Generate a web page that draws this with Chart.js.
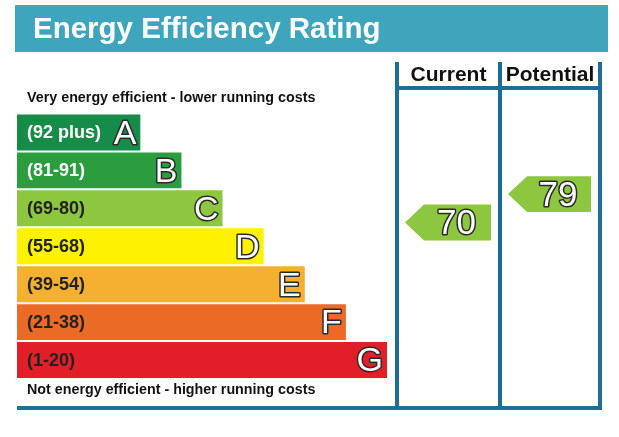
<!DOCTYPE html>
<html>
<head>
<meta charset="utf-8">
<script src="https://cdn.jsdelivr.net/npm/chart.js@4.4.1/dist/chart.umd.min.js"></script>
<style>
  html, body { margin: 0; padding: 0; background: #fff; }
</style>
</head>
<body>
<canvas id="epc" width="619" height="437"></canvas>
<script>
// bands, top (best) to bottom (worst)
const bands = ['A', 'B', 'C', 'D', 'E', 'F', 'G'];
const ranges = ['(92 plus)', '(81-91)', '(69-80)', '(55-68)', '(39-54)', '(21-38)', '(1-20)'];
const bandLow = [92, 81, 69, 55, 39, 21, 1];
const bandHigh = [100, 91, 80, 68, 54, 38, 20];
const barLength = [3, 4, 5, 6, 7, 8, 9];
const bandColours = ['#178c48', '#2a9d3e', '#8dc63f', '#fff200', '#f6b031', '#eb6a26', '#e21f28'];
const rangeTextColours = ['#ffffff', '#ffffff', '#222222', '#222222', '#222222', '#222222', '#222222'];

// ratings shown in the table columns
const columns = ['Current', 'Potential'];
const ratings = [70, 79];

const FONT = '"Liberation Sans", Arial, sans-serif';
const LINE = '#1c6e98';

function bandIndex(v) {
    for (let i = 0; i < bands.length; i++) {
        if (v >= bandLow[i] && v <= bandHigh[i]) return i;
    }
    return bands.length - 1;
}

// white text with a dark outline, like the letters on the bands
function outlined(ctx, txt, x, y) {
    ctx.lineJoin = 'round';
    ctx.lineWidth = 3;
    ctx.strokeStyle = '#2a2a2a';
    ctx.strokeText(txt, x, y);
    ctx.fillStyle = '#fff';
    ctx.fillText(txt, x, y);
}

const epcPlugin = {
    id: 'epc',
    afterDatasetsDraw(chart) {
        const ctx = chart.ctx;
        const meta = chart.getDatasetMeta(0);
        ctx.save();
        meta.data.forEach((bar, i) => {
            ctx.font = 'bold 18px ' + FONT;
            ctx.fillStyle = rangeTextColours[i];
            ctx.textAlign = 'left';
            ctx.textBaseline = 'middle';
            ctx.fillText(ranges[i], bar.base + 10, bar.y + 1);
            ctx.font = '34px ' + FONT;
            ctx.textAlign = 'right';
            outlined(ctx, bands[i], bar.x - 4, bar.y + 2);
        });
        ctx.restore();
    },
    afterDraw(chart) {
        const ctx = chart.ctx;
        const area = chart.chartArea;
        const yScale = chart.scales.y;
        ctx.save();

        // title banner
        ctx.fillStyle = '#3fa5bc';
        ctx.fillRect(15, 5, 593, 47);
        ctx.fillStyle = '#fff';
        ctx.font = 'bold 29.5px ' + FONT;
        ctx.textAlign = 'left';
        ctx.textBaseline = 'alphabetic';
        ctx.fillText('Energy Efficiency Rating', 33, 38);

        // captions above and below the bars
        ctx.fillStyle = '#111';
        ctx.font = 'bold 14.3px ' + FONT;
        ctx.textBaseline = 'middle';
        ctx.fillText('Very energy efficient - lower running costs', 27, 98);
        ctx.fillText('Not energy efficient - higher running costs', 27, 390);

        // table frame
        const colX = [397, 500, 600];
        ctx.strokeStyle = LINE;
        ctx.lineWidth = 4;
        ctx.beginPath();
        colX.forEach(x => { ctx.moveTo(x, 62); ctx.lineTo(x, 410); });
        ctx.moveTo(colX[0], 88); ctx.lineTo(colX[2], 88);
        ctx.moveTo(17, 408); ctx.lineTo(colX[2] + 2, 408);
        ctx.stroke();

        // column headers
        ctx.fillStyle = '#111';
        ctx.font = 'bold 21px ' + FONT;
        ctx.textAlign = 'center';
        columns.forEach((c, k) => {
            ctx.fillText(c, (colX[k] + colX[k + 1]) / 2, 75);
        });

        // rating arrows, placed on the band scale
        const step = (area.bottom - area.top) / bands.length;
        ratings.forEach((v, k) => {
            const i = bandIndex(v);
            const top = yScale.getPixelForValue(i) - step / 2;
            const frac = (v - bandLow[i] + 0.5) / (bandHigh[i] - bandLow[i] + 1);
            const y = top + step * (1 - frac);
            const h = chart.getDatasetMeta(0).data[i].height;
            const x0 = colX[k] + 8;
            const x1 = colX[k + 1] - 9;
            const xb = x0 + 19;
            ctx.fillStyle = bandColours[i];
            ctx.beginPath();
            ctx.moveTo(x0, y);
            ctx.lineTo(xb, y - h / 2);
            ctx.lineTo(x1, y - h / 2);
            ctx.lineTo(x1, y + h / 2);
            ctx.lineTo(xb, y + h / 2);
            ctx.closePath();
            ctx.fill();
            ctx.font = '35px ' + FONT;
            ctx.textAlign = 'center';
            outlined(ctx, String(v), (xb + x1) / 2 - 1, y + 2);
        });
        ctx.restore();
    }
};

new Chart(document.getElementById('epc'), {
    type: 'bar',
    data: {
        labels: bands,
        datasets: [{
            data: barLength,
            backgroundColor: bandColours,
            barPercentage: 1,
            categoryPercentage: 0.947
        }]
    },
    options: {
        indexAxis: 'y',
        responsive: false,
        animation: false,
        devicePixelRatio: 1,
        layout: { padding: { left: 17, right: 232, top: 113.5, bottom: 58 } },
        scales: {
            x: { display: false, min: 0, max: 9 },
            y: { display: false }
        },
        plugins: {
            legend: { display: false },
            tooltip: { enabled: false }
        }
    },
    plugins: [epcPlugin]
});
</script>
</body>
</html>
